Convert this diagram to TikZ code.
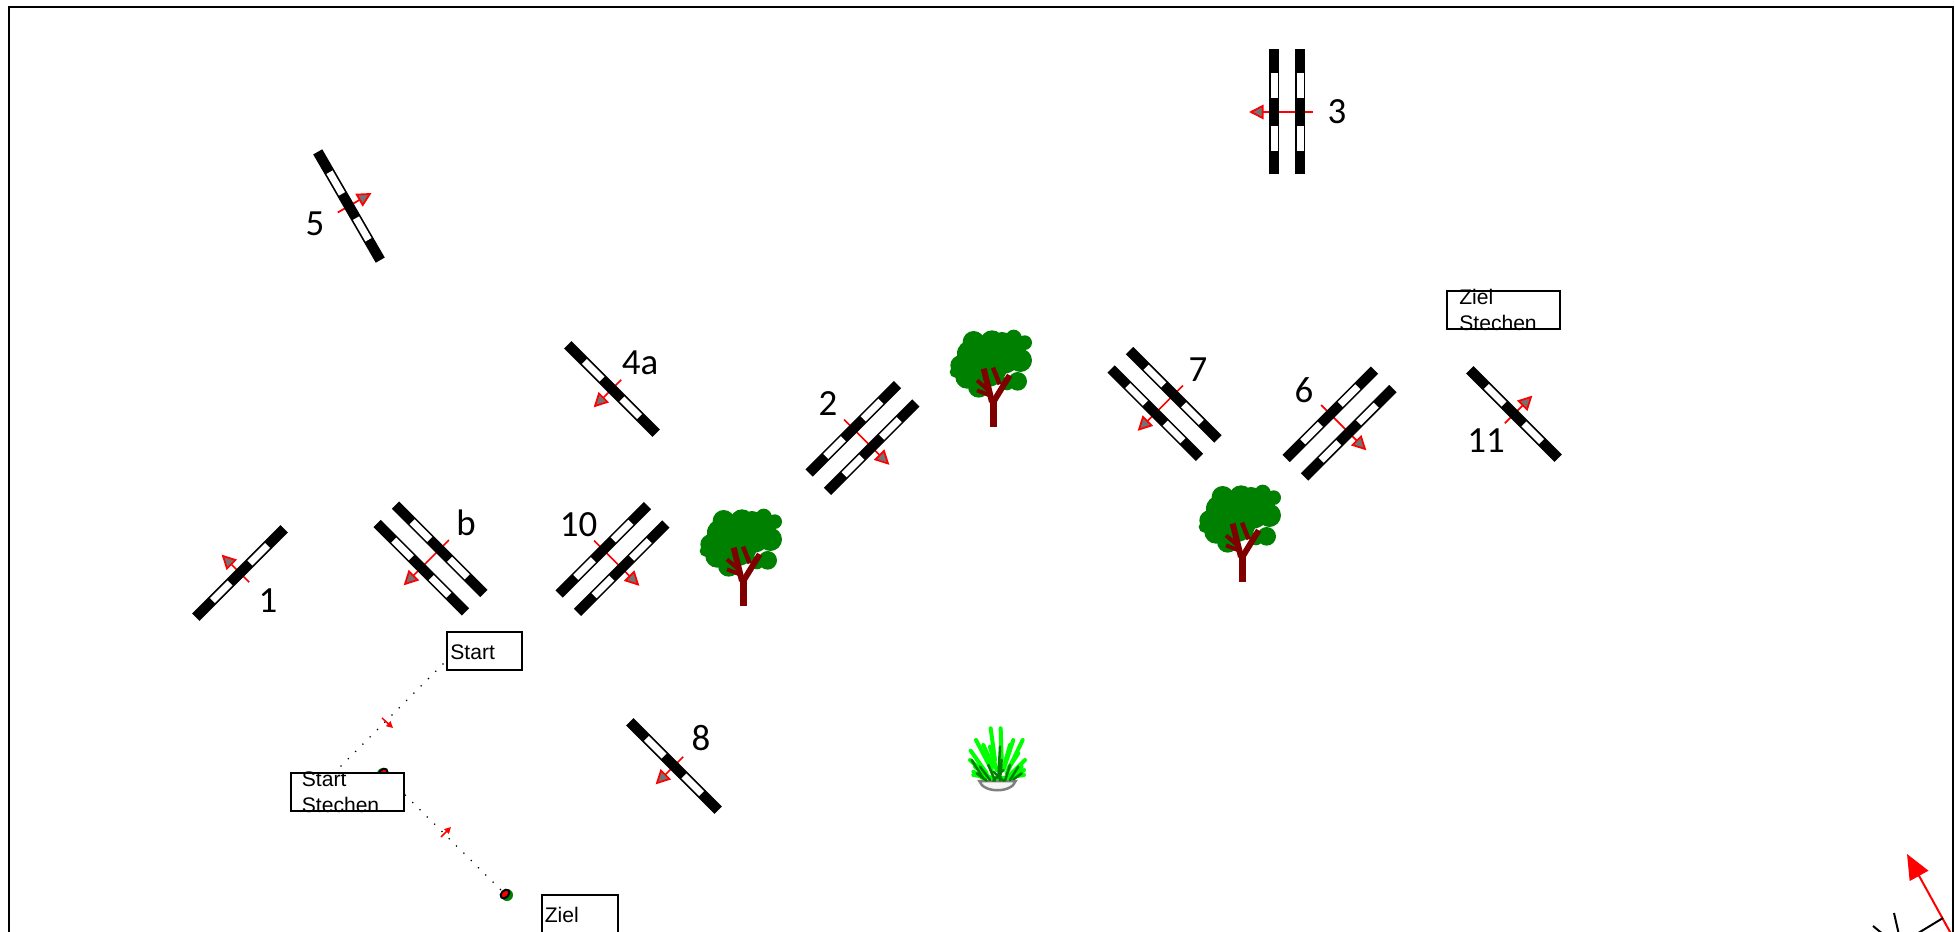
\documentclass[tikz,border=0pt]{standalone}
\usepackage{fontspec}
\setmainfont{Liberation Sans}
\newfontfamily\numfont{Carlito}
\usetikzlibrary{arrows.meta}
\definecolor{treegreen}{HTML}{008000}
\definecolor{treebrown}{HTML}{800000}
\definecolor{grasslime}{HTML}{00FF00}
\tikzset{
    flight/.style={red, line width=0.035cm, -{Triangle[length=0.29cm,width=0.29cm,fill=gray!90!black]}},
    small flight/.style={red, line width=0.03cm, -{Triangle[length=0.13cm,width=0.13cm]}}
}
% one pole with its two white gaps
\newcommand{\jumppole}[1]{
    \fill[black] (#1-5.2,-62.5) rectangle (#1+5.2,62.5);
    \foreach \s in {-1,1}
        \fill[white] (#1-3.5,\s*14) rectangle (#1+3.5,\s*39);
}
\newcommand{\singlejump}[2]{
    \begin{scope}[shift={(#1)},rotate=#2]
        \draw[flight] (-13,0) -- (26,0);
        \jumppole{0}
    \end{scope}
}
\newcommand{\doublejump}[2]{
    \begin{scope}[shift={(#1)},rotate=#2]
        \draw[flight] (-26,0) -- (38,0);
        \jumppole{-13}
        \jumppole{13}
    \end{scope}
}
% #1,#2 is the foot of the trunk
\newcommand{\crowntree}[2]{
    \begin{scope}[shift={(#1-62.67,#2-116.67)},scale=1/3]
        \fill[treegreen] (130,95) circle (33) (185,95) circle (35) (250,82) circle (24)
            (283,97) circle (22) (270,150) circle (35) (250,115) circle (35)
            (215,100) circle (35) (220,140) circle (50) (120,130) circle (40)
            (90,165) circle (30) (110,200) circle (35) (145,230) circle (32)
            (75,185) circle (17) (262,213) circle (28) (230,220) circle (20)
            (170,170) circle (60) (130,170) circle (45);
        \draw[treebrown, line width=0.14cm] (188,350) -- (188,262);
        \draw[treebrown, line width=0.12cm] (185,275) -- (160,175);
        \draw[treebrown, line width=0.12cm] (192,270) -- (238,195);
        \draw[treebrown, line width=0.09cm] (208,222) -- (188,172);
        \draw[treebrown, line width=0.08cm] (180,245) -- (140,210);
        \draw[treebrown, line width=0.08cm] (178,255) -- (140,240);
    \end{scope}
}
\begin{document}
\begin{tikzpicture}
        [x=0.02cm,y=-0.02cm,
        num/.style={font=\numfont\fontsize{21}{25}\selectfont, inner sep=0pt},
        signbox/.style={draw, fill=white, line width=0.04cm, inner sep=0pt},
        signtext/.style={font=\fontsize{12}{14.5}\selectfont, inner sep=0pt, anchor=north west, align=left},
        route/.style={line width=0.025cm, dash pattern=on 0.025cm off 0.181cm}]
        \useasboundingbox (0,0) rectangle (1955,932);
        \draw[line width=0.04cm] (9,7) rectangle (1953,932.5);

        \singlejump{240,573}{135}
        \singlejump{349,206}{30}
        \singlejump{612,389}{225}
        \singlejump{674,766}{225}
        \singlejump{1514,414}{45}
        \doublejump{430.5,558.5}{225}
        \doublejump{612.5,559}{315}
        \doublejump{862.5,438}{315}
        \doublejump{1164.5,404}{225}
        \doublejump{1339.5,423.5}{315}
        \doublejump{1287,112}{180}

        \node[num] (n1) at (268,601) {1};
        \node[num] (n5) at (315,224) {5};
        \node[num] (nb) at (466,523) {b};
        \node[num] (n3) at (1337,112) {3};
        \node[num] (n4a) at (640,363) {4a};
        \node[num] (n2) at (828,404) {2};
        \node[num] (n10) at (578.5,525) {10};
        \node[num] (n7) at (1198,370) {7};
        \node[num] (n6) at (1304,390) {6};
        \node[num] (n8) at (701,738) {8};
        \node[num] (n11) at (1486,441) {11};

        \crowntree{993}{427}
        \crowntree{743}{606}
        \crowntree{1242}{582}

        % plant in its pot
        \begin{scope}[shift={(950,710)},scale=1/3]
            \draw[gray, fill=white!92!gray, line width=0.05cm] (88,213) .. controls (100,250) and (185,250) .. (197,213) -- cycle;
            \foreach \bx/\by/\tx/\ty in {135/150/122/55,155/150/152/55,125/180/78/90,130/170/100/105,
                    160/180/190/90,170/190/218/90,110/190/62/122,175/175/205/130,115/200/60/150,
                    180/195/225/150,140/205/70/195,150/205/222/195,140/180/120/110,160/175/180/105,
                    120/205/75/170,175/205/215/170,100/205/70/185,190/205/222/180}
                \draw[grasslime, line width=0.08cm, line cap=round] (\bx,\by) -- (\tx,\ty);
            \foreach \bx/\by/\tx/\ty in {100/205/65/150,120/210/90/170,135/212/115/165,150/212/155/150,
                    165/212/180/165,180/210/205/170,145/205/150/110,110/212/80/190,190/208/215/190,
                    130/212/160/180,160/212/130/185}
                \draw[treegreen, line width=0.05cm, line cap=round] (\bx,\by) -- (\tx,\ty);
        \end{scope}

        \coordinate (routeA) at (458,649);
        \coordinate (routeB) at (320,787);
        \coordinate (coneA) at (383,773);
        \coordinate (coneB) at (505,894);
        \draw[route] (routeA) -- (routeB);
        \draw[route] (coneA) -- (coneB);
        \fill[treegreen] (383,774) circle (6);
        \fill[treegreen] (507,895) circle (6);
        \draw[black, fill=red, line width=0.04cm, rotate around={45:(coneA)}] (coneA) ellipse (5 and 3.5);
        \draw[black, fill=red, line width=0.04cm, rotate around={45:(coneB)}] (coneB) ellipse (5 and 3.5);

        \coordinate (markA) at (382,718);
        \coordinate (markAend) at (393,728);
        \coordinate (markB) at (441,837);
        \coordinate (markBend) at (451,827);
        \draw[small flight] (markA) -- (markAend);
        \draw[small flight] (markB) -- (markBend);

        \node[signbox, minimum width=1.5cm, minimum height=0.76cm] (start) at (484.5,651) {};
        \node[signtext] (startText) at (450,644.5) {Start};
        \node[signbox, minimum width=2.26cm, minimum height=0.76cm] (startStechen) at (347.5,792) {};
        \node[signtext] (startStechenText) at (301.5,771.5) {Start\\Stechen};
        \node[signbox, minimum width=1.52cm, minimum height=0.76cm] (ziel) at (580,914) {};
        \node[signtext] (zielText) at (544.5,907) {Ziel};
        \node[signbox, minimum width=2.26cm, minimum height=0.76cm] (zielStechen) at (1503.5,310) {};
        \node[signtext] (zielStechenText) at (1459,289) {Ziel\\Stechen};

        % compass, cut off by the lower edge
        \coordinate (compass) at (1955,941);
        \coordinate (north) at (1907,854);
        \draw[red, line width=0.04cm, -{Triangle[length=0.5cm,width=0.42cm]}] (compass) -- (north);
        \coordinate (tickA) at (1894,913);
        \coordinate (tickAend) at (1899,935);
        \coordinate (tickB) at (1943,918);
        \coordinate (tickBend) at (1915,935);
        \coordinate (tickC) at (1873,926);
        \coordinate (tickCend) at (1884,935);
        \draw[line width=0.04cm] (tickA) -- (tickAend);
        \draw[line width=0.04cm] (tickB) -- (tickBend);
        \draw[line width=0.04cm] (tickC) -- (tickCend);
    \end{tikzpicture}
\end{document}
